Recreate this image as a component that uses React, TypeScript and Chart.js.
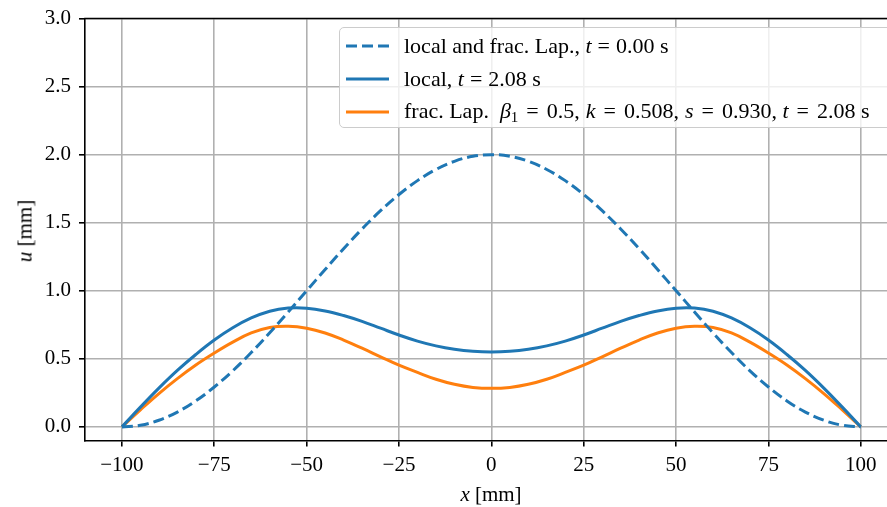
import React, { useEffect, useRef } from "react";
import { Chart, registerables } from "chart.js";

Chart.register(...registerables);

// x positions [mm]
const xValues = [
  -100, -95, -90, -85, -80, -75, -70, -65, -60, -55, -50, -45, -40, -35, -30, -25, -20, -15, -10, -5,
  0, 5, 10, 15, 20, 25, 30, 35, 40, 45, 50, 55, 60, 65, 70, 75, 80, 85, 90, 95, 100,
];

// local and frac. Lap., t = 0.00 s (initial condition)
const initialU = [
  0.0, 0.012, 0.049, 0.109, 0.191, 0.293, 0.412, 0.546, 0.691, 0.844, 1.0, 1.156, 1.309, 1.454, 1.588, 1.707, 1.809, 1.891, 1.951, 1.988,
  2.0, 1.988, 1.951, 1.891, 1.809, 1.707, 1.588, 1.454, 1.309, 1.156, 1.0, 0.844, 0.691, 0.546, 0.412, 0.293, 0.191, 0.109, 0.049, 0.012, 0.0,
];

// local, t = 2.08 s
const localU = [
  0.0, 0.145, 0.285, 0.415, 0.532, 0.638, 0.728, 0.8, 0.85, 0.873, 0.872, 0.852, 0.818, 0.775, 0.725, 0.675, 0.63, 0.595, 0.57, 0.555,
  0.55, 0.555, 0.57, 0.595, 0.63, 0.675, 0.725, 0.775, 0.818, 0.852, 0.872, 0.873, 0.85, 0.8, 0.728, 0.638, 0.532, 0.415, 0.285, 0.145, 0.0,
];

// frac. Lap., t = 2.08 s
const fracU = [
  0.0, 0.125, 0.245, 0.355, 0.455, 0.543, 0.623, 0.69, 0.73, 0.739, 0.725, 0.69, 0.638, 0.578, 0.515, 0.453, 0.4, 0.35, 0.313, 0.29,
  0.283, 0.29, 0.313, 0.35, 0.4, 0.453, 0.515, 0.578, 0.638, 0.69, 0.725, 0.739, 0.73, 0.69, 0.623, 0.543, 0.455, 0.355, 0.245, 0.125, 0.0,
];

const xTicks = [-100, -75, -50, -25, 0, 25, 50, 75, 100];
const yTicks = [0, 0.5, 1.0, 1.5, 2.0, 2.5, 3.0];

const BLUE = "#1f77b4";
const ORANGE = "#ff7f0e";
const FONT = '"Liberation Serif", "DejaVu Serif", serif';
const FS = 21;
const LFS = 22;

const topSpine = {
  id: "topSpine",
  afterDraw(chart: any) {
    const { ctx, chartArea } = chart;
    ctx.save();
    ctx.strokeStyle = "#000";
    ctx.lineWidth = 1.6;
    ctx.beginPath();
    ctx.moveTo(chartArea.left - 0.8, chartArea.top);
    ctx.lineTo(chartArea.right + 2, chartArea.top);
    ctx.stroke();
    ctx.restore();
  },
};

function fmtX(v: number) {
  return v < 0 ? "\u2212" + Math.abs(v) : String(v);
}

const Eq = ({ m = 6 }: { m?: number }) => <span style={{ margin: `0 ${m}px` }}>=</span>;

export default function App() {
  const ref = useRef<HTMLCanvasElement | null>(null);

  useEffect(() => {
    if (!ref.current) return;
    const mk = (ys: number[]) => xValues.map((x, i) => ({ x, y: ys[i] }));
    const common = { pointRadius: 0, borderWidth: 3, tension: 0.4, fill: false };
    const chart = new Chart(ref.current, {
      type: "line",
      data: {
        datasets: [
          { label: "initial", data: mk(initialU), borderColor: BLUE, borderDash: [11, 5], ...common },
          { label: "local", data: mk(localU), borderColor: BLUE, ...common },
          { label: "frac", data: mk(fracU), borderColor: ORANGE, ...common },
        ],
      },
      options: {
        responsive: false,
        animation: false,
        layout: { padding: { left: 0, top: 17, right: 0, bottom: 0 } },
        plugins: { legend: { display: false }, tooltip: { enabled: false } },
        scales: {
          x: {
            type: "linear",
            min: -110,
            max: 107.1,
            afterBuildTicks: (s: any) => {
              s.ticks = xTicks.map((v) => ({ value: v }));
            },
            afterFit: (s: any) => {
              s.height = 66.5;
            },
            grid: { color: "#b0b0b0", lineWidth: 1.6, tickLength: 6, tickColor: "#000", tickWidth: 1.6 },
            border: { color: "#000", width: 1.6 },
            ticks: {
              color: "#000",
              font: { family: FONT, size: FS, lineHeight: 1 },
              padding: 8,
              maxRotation: 0,
              autoSkip: false,
              callback: (v: any) => fmtX(Number(v)),
            },
          },
          y: {
            type: "linear",
            min: -0.1,
            max: 3.0,
            afterBuildTicks: (s: any) => {
              s.ticks = yTicks.map((v) => ({ value: v }));
            },
            afterFit: (s: any) => {
              s.width = 85;
            },
            grid: { color: "#b0b0b0", lineWidth: 1.6, tickLength: 6, tickColor: "#000", tickWidth: 1.6 },
            border: { color: "#000", width: 1.6 },
            ticks: {
              color: "#000",
              font: { family: FONT, size: FS, lineHeight: 1 },
              padding: 8,
              autoSkip: false,
              callback: (v: any) => Number(v).toFixed(1),
            },
          },
        },
      },
      plugins: [topSpine],
    } as any);
    return () => chart.destroy();
  }, []);

  const textStyle: React.CSSProperties = {
    fontFamily: FONT,
    fontSize: FS,
    color: "#000",
    whiteSpace: "nowrap",
    lineHeight: 1,
  };

  const row = (top: number, dashed: boolean, color: string, content: React.ReactNode) => (
    <div style={{ position: "absolute", left: 0, top: top - 16, height: 32, display: "flex", alignItems: "center" }}>
      <svg width={64} height={32} style={{ display: "block" }}>
        <line x1={6} y1={16} x2={49} y2={16} stroke={color} strokeWidth={3} strokeDasharray={dashed ? "11 5" : undefined} />
      </svg>
      <span style={{ ...textStyle, fontSize: LFS }}>{content}</span>
    </div>
  );

  return (
    <div style={{ position: "fixed", left: 0, top: 0, width: 887, height: 507, overflow: "hidden", background: "#fff" }}>
      <canvas ref={ref} width={887} height={507} style={{ position: "absolute", left: 0, top: 0 }} />
      {/* legend */}
      <div
        style={{
          position: "absolute",
          left: 339,
          top: 27,
          width: 600,
          height: 101,
          border: "1.3px solid #cccccc",
          borderRadius: 5,
          background: "rgba(255,255,255,0.8)",
          boxSizing: "border-box",
        }}
      >
        {row(18, true, BLUE, <>local and frac. Lap., <i>t</i><Eq />0.00 s</>)}
        {row(51, false, BLUE, <>local, <i>t</i><Eq />2.08 s</>)}
        {row(
          84,
          false,
          ORANGE,
          <>
            frac. Lap.<i style={{ marginLeft: 11 }}>β</i>
            <sub style={{ fontSize: 15, verticalAlign: -4 }}>1</sub>
            <Eq m={8} />0.5,<i style={{ marginLeft: 6 }}>k</i><Eq m={8} />0.508,<i style={{ marginLeft: 6 }}>s</i><Eq m={8} />0.930, <i>t</i><Eq m={8} />2.08 s
          </>
        )}
      </div>
      {/* y axis title */}
      <div
        style={{
          ...textStyle,
          position: "absolute",
          left: 25,
          top: 231,
          transform: "translate(-50%, -50%) rotate(-90deg)",
        }}
      >
        <i>u</i> [mm]
      </div>
      {/* x axis title */}
      <div style={{ ...textStyle, position: "absolute", left: 491, top: 494, transform: "translate(-50%, -50%)" }}>
        <i>x</i> [mm]
      </div>
    </div>
  );
}
